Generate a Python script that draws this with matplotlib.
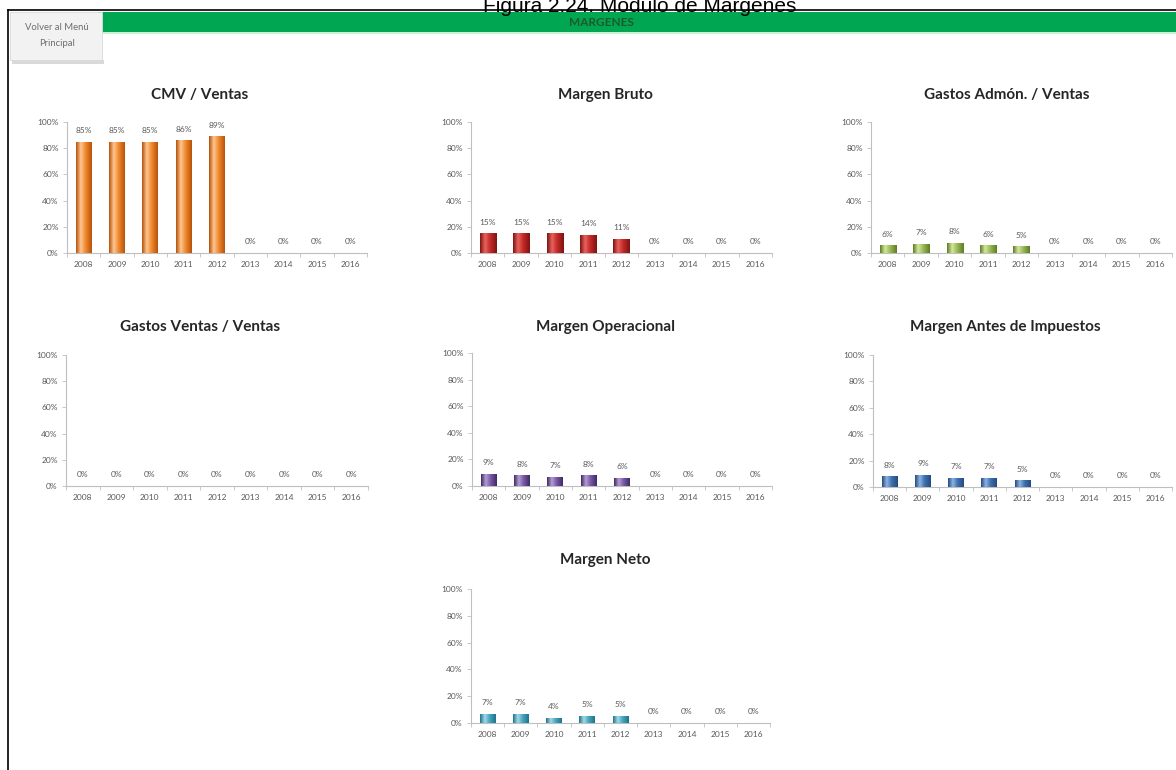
import numpy as np
import matplotlib
matplotlib.use('Agg')
import matplotlib.pyplot as plt
from matplotlib.colors import LinearSegmentedColormap
from matplotlib.patches import Rectangle

plt.rcParams['font.family'] = ['Lato', 'DejaVu Sans']

W, H = 1176, 770

# data
years = ['2008', '2009', '2010', '2011', '2012', '2013', '2014', '2015', '2016']
cmv_ventas = [0.85, 0.85, 0.85, 0.86, 0.89, 0, 0, 0, 0]
margen_bruto = [0.15, 0.15, 0.15, 0.14, 0.11, 0, 0, 0, 0]
gastos_admon = [0.06, 0.07, 0.08, 0.06, 0.05, 0, 0, 0, 0]
gastos_ventas = [0, 0, 0, 0, 0, 0, 0, 0, 0]
margen_operacional = [0.09, 0.08, 0.07, 0.08, 0.06, 0, 0, 0, 0]
margen_antes_imp = [0.08, 0.09, 0.07, 0.07, 0.05, 0, 0, 0, 0]
margen_neto = [0.07, 0.07, 0.04, 0.05, 0.05, 0, 0, 0, 0]

titles = ['CMV / Ventas', 'Margen Bruto', 'Gastos Admón. / Ventas',
          'Gastos Ventas / Ventas', 'Margen Operacional',
          'Margen Antes de Impuestos', 'Margen Neto']
series = [cmv_ventas, margen_bruto, gastos_admon, gastos_ventas,
          margen_operacional, margen_antes_imp, margen_neto]

# (dark, light, mid) per chart
palettes = [('#B8520A', '#FDC792', '#F28A2E'),
            ('#7E1412', '#E8635E', '#C42A26'),
            ('#5E7D22', '#D3E79B', '#9BBB59'),
            ('#4F81BD', '#B9CDE5', '#4F81BD'),
            ('#3F2A66', '#B39DD3', '#7A5AA6'),
            ('#234C80', '#8DB3E2', '#3F72B0'),
            ('#20738A', '#A5D8E6', '#46A8C2')]

# axes boxes in pixels: left, top (100%), right, bottom (0%)
boxes = [(67, 122, 367, 253), (471, 122, 772, 253), (871, 122, 1172, 253),
         (66, 355, 368, 486), (472, 353, 772, 486), (873, 355, 1172, 487),
         (471, 589, 770, 723)]
title_pos = [(200, 95), (605, 95), (1007, 95),
             (200, 327), (605, 327), (1005, 327), (605, 560)]

fig = plt.figure(figsize=(W / 100, H / 100), dpi=100)

# background / decorations
bg = fig.add_axes([0, 0, 1, 1])
bg.set_xlim(0, W)
bg.set_ylim(H, 0)
bg.axis('off')
bg.plot([8, 8], [10, H], color='black', lw=1.2)
bg.plot([8, W], [10, 10], color='black', lw=1.2)
bg.add_patch(Rectangle((98, 12), W - 98, 20, facecolor='#00A651', edgecolor='none'))
bg.add_patch(Rectangle((98, 32), W - 98, 2, facecolor='#C8F0D2', edgecolor='none'))
bg.text(601, 22, 'MARGENES', ha='center', va='center', fontsize=8.5,
        fontweight='bold', color='#1E5A28')
bg.add_patch(Rectangle((12, 60), 92, 4, facecolor='#D9D9D9', edgecolor='none'))
bg.add_patch(Rectangle((10, 12), 92, 48, facecolor='#F2F2F2', edgecolor='#DADADA', lw=0.6))
bg.text(57, 27, 'Volver al Menú', ha='center', va='center', fontsize=6.8, color='#6E6E6E')
bg.text(57, 43, 'Principal', ha='center', va='center', fontsize=6.8, color='#6E6E6E')
bg.text(640, 12, 'Figura 2.24. Modulo de Margenes', ha='center', va='baseline',
        fontsize=15, color='black', family=['Liberation Sans', 'DejaVu Sans'])

x = np.arange(len(years))
bw = 0.48
grad = np.linspace(0, 1, 64).reshape(1, -1)

for title, vals, pal, box, tp in zip(titles, series, palettes, boxes, title_pos):
    l, t, r, b = box
    ax = fig.add_axes([l / W, 1 - b / H, (r - l) / W, (b - t) / H])
    dark, light, mid = pal
    cmap = LinearSegmentedColormap.from_list('g', [(0, dark), (0.3, light), (0.6, mid), (1, dark)])
    bars = ax.bar(x, vals, width=bw, color=mid, edgecolor='none', zorder=2)
    for bar, v in zip(bars, vals):
        if v <= 0:
            continue
        x0 = bar.get_x()
        im = ax.imshow(grad, cmap=cmap, aspect='auto', zorder=3,
                       extent=(x0, x0 + bw, 0, v))
        im.set_clip_path(bar)
    for xi, v in zip(x, vals):
        ax.text(xi, v + 0.085, f'{round(v * 100)}%', ha='center', va='center',
                fontsize=6, color='#595959')
    ax.set_xlim(-0.5, len(years) - 0.5)
    ax.set_ylim(0, 1)
    ax.set_yticks(np.arange(0, 1.01, 0.2))
    ax.set_yticklabels([f'{int(round(v * 100))}%' for v in np.arange(0, 1.01, 0.2)])
    ax.set_xticks(x)
    ax.set_xticklabels(years)
    ax.set_xticks(np.arange(-0.5, len(years)), minor=True)
    ax.tick_params(axis='x', which='major', length=0, labelsize=6,
                   labelcolor='#595959', pad=6)
    ax.tick_params(axis='x', which='minor', length=3, color='#BFBFBF', width=0.6)
    ax.tick_params(axis='y', length=3, color='#BFBFBF', width=0.6, labelsize=6,
                   labelcolor='#595959', pad=3)
    for s in ['top', 'right']:
        ax.spines[s].set_visible(False)
    for s in ['left', 'bottom']:
        ax.spines[s].set_color('#BFBFBF')
        ax.spines[s].set_linewidth(0.8)
    ax.patch.set_alpha(0)
    bg.text(tp[0], tp[1], title, ha='center', va='center', fontsize=11,
            fontweight='bold', color='#262626')

fig.savefig('out.png', dpi=100)
